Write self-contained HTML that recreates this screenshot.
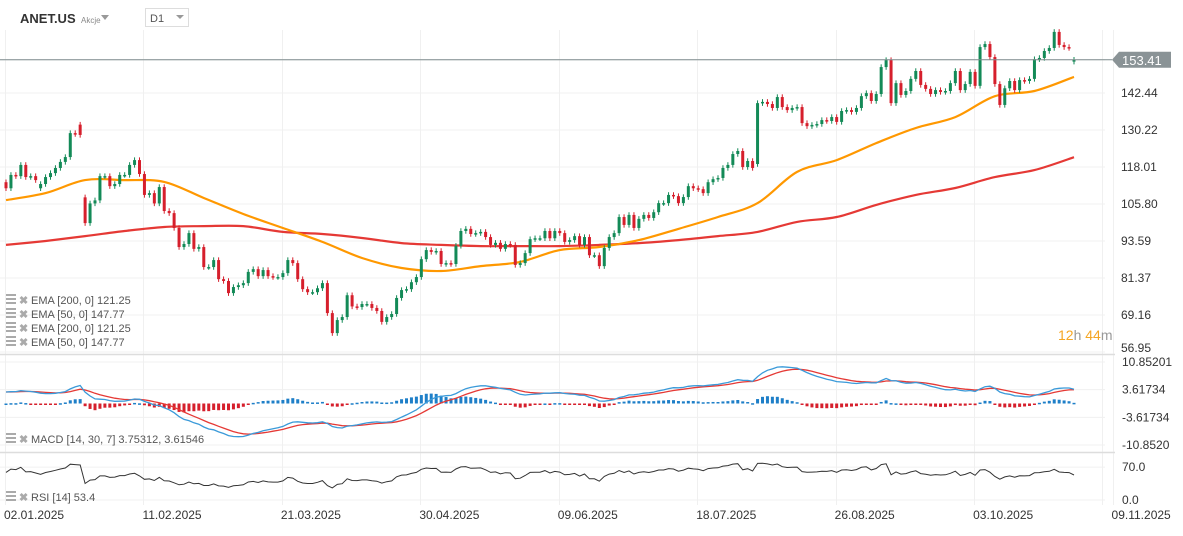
<!DOCTYPE html>
<html><head><meta charset="utf-8"><style>
html,body{margin:0;padding:0;background:#fff;}
body{width:1183px;height:531px;overflow:hidden;position:relative;font-family:"Liberation Sans",sans-serif;}
svg text{font-family:"Liberation Sans",sans-serif;}
</style></head><body>
<svg id="chart" width="1183" height="531" viewBox="0 0 1183 531" xmlns="http://www.w3.org/2000/svg">
<g id="grid"></g>
<g id="ema"></g>
<g id="candles"></g>
<g id="macd"></g>
<g id="rsi"></g>
<g id="axes"></g>
<g>
<text x="20" y="23" font-size="13" font-weight="bold" fill="#333">ANET.US</text>
<text x="81" y="23" font-size="8" fill="#888">Akcje</text>
<path d="M101 15 L109 15 L105 20 Z" fill="#999"/>
<rect x="145.5" y="8.5" width="43" height="18" fill="#fff" stroke="#ddd"/>
<text x="150" y="22" font-size="11" fill="#555">D1</text>
<path d="M176 15 L184 15 L180 19 Z" fill="#999"/>
</g>
<g>
<text x="1058" y="340" font-size="14"><tspan fill="#f5a623">12</tspan><tspan fill="#999">h </tspan><tspan fill="#f5a623">44</tspan><tspan fill="#999">m</tspan></text>
</g>
<g id="legend"></g>
</svg>
<script>
const closes=[111,115.4,115,118.7,114.7,115,113.7,112.4,114.7,116,117.7,119.7,121.3,129.2,128.9,128.6,99.5,106,107,115,115,111.7,112.4,115.4,115.4,118.7,120.3,115.7,108.8,109.4,106,111.4,103.5,102.8,97.9,91.6,92.6,96.2,91,91.6,85,85,87.3,81,80.4,76.4,78.4,79,79.7,83.4,84.3,82,84,82,81.7,81.7,83,87.3,86.3,81,77.7,76.7,76.7,78,79.7,69.8,63.2,67.5,68.5,75.7,72,71.8,72.8,72.8,71.5,70.5,66.9,68.5,69.5,74.8,77.4,77.7,80,81.7,87.6,90.6,90,90.3,86,86.3,86,92,96.9,97.6,95.9,96.2,96.6,94.9,92.3,93,91,92.6,92.3,85.7,86.3,89.6,94.2,94.5,94.5,96.9,94.5,96.9,96.2,93.3,93.9,95.2,92.3,94.9,88.9,88.9,85.3,91.3,94.9,96.2,101.5,98.9,102.2,97.9,100.9,102.2,101.2,103.1,106.1,106.1,108.8,108.4,106.1,108.1,111.7,111,110.7,109.4,113,114,114.4,117.7,118.7,122.3,123.3,118,120,117.7,139.1,139.5,138.8,137.5,141.1,137.8,136.8,137.5,137.8,132.5,131.5,131.9,132.2,133.5,133.2,134.5,132.9,136.5,136.8,136.2,137.5,141.4,142.4,139.8,142.1,151,153.3,139.1,145.7,141.8,143.1,147.1,149.7,145.1,143.8,142.1,143.4,142.8,143.1,145.7,149.7,143.4,145.4,149.4,144.8,157.6,158.6,154.3,145.4,138.5,144,146.4,143.4,146.7,146.4,147.1,153.6,154,156.3,157.3,162.6,158.3,157.6,157.3,153.41];
const opens=[113,111,115.4,115,118.7,114.7,115,111,112.4,114.7,116,117.7,119.7,121.3,129.2,132,108,99.5,106,107,115,115,111.7,112.4,115.4,115.4,118.7,120.3,115.7,108.8,109.4,106,111.4,103.5,102.8,97.9,91.6,92.6,96.2,91,91.6,85,85,87.3,81,80.4,76.4,78.4,79,79.7,83.4,84.3,82,84,82,81.7,81.7,83,87.3,86.3,81,77.7,76.7,76.7,78,79.7,69.8,63.2,67.5,68.5,75.7,72,71.8,72.8,72.8,71.5,70.5,66.9,68.5,69.5,74.8,77.4,77.7,80,81.7,87.6,90.6,90,90.3,86,86.3,86,92,96.9,97.6,95.9,96.2,96.6,94.9,92.3,93,91,92.6,92.3,85.7,86.3,89.6,94.2,94.5,94.5,96.9,94.5,96.9,96.2,93.3,93.9,95.2,92.3,94.9,88.9,88.9,85.3,91.3,94.9,96.2,101.5,98.9,102.2,97.9,100.9,102.2,101.2,103.1,106.1,106.1,108.8,108.4,106.1,108.1,111.7,111,110.7,109.4,113,114,114.4,117.7,118.7,122.3,123.3,118,120,119,139.1,139.5,138.8,137.5,141.1,137.8,136.8,137.5,137.8,132.5,131.5,131.9,132.2,133.5,133.2,134.5,132.9,136.5,136.8,136.2,137.5,141.4,142.4,139.8,142.1,151,153.3,139.1,145.7,141.8,143.1,147.1,149.7,145.1,143.8,142.1,143.4,142.8,143.1,145.7,149.7,143.4,145.4,149.4,144.8,157.6,158.6,154.3,145.4,138.5,144,146.4,143.4,146.7,146.4,147.1,153.6,154,156.3,157.3,162.6,158.3,157.6,152.8];
const ema50=[107.1,109.4,113.7,113.7,113.1,107.8,102.5,97.9,93.3,88,84.7,83.7,85.3,86.7,90.6,91.6,93.9,97.6,101.5,106.1,116.4,120.3,125.9,130.9,134.5,141.4,143.1,147.77];
const ema200=[92.3,93.6,95.2,96.9,98.2,98.5,98.5,96.6,95.9,94.6,92.9,92.3,91.9,91.9,91.9,92.3,92.9,93.9,95.2,96.6,99.9,101.5,105.5,108.8,111.1,114.7,117,121.25];
const emaStep=8;
const priceTicks=["153.41","142.44","130.22","118.01","105.80","93.59","81.37","69.16","56.95"];
const priceTickVals=[153.41,142.44,130.22,118.01,105.80,93.59,81.37,69.16,56.95];
const macdTicks=["10.85201","3.61734","-3.61734","-10.8520"];
const macdTickVals=[10.852,3.61734,-3.61734,-10.852];
const rsiTicks=["70.0","0.0"];
const rsiTickVals=[70,0];
const dateLabels=["02.01.2025","11.02.2025","21.03.2025","30.04.2025","09.06.2025","18.07.2025","26.08.2025","03.10.2025","09.11.2025"];
const dateIdx=[0,28,56,84,112,140,168,196,224];

const NS="http://www.w3.org/2000/svg";
function mk(tag,attrs,parent){const e=document.createElementNS(NS,tag);for(const k in attrs)e.setAttribute(k,attrs[k]);parent.appendChild(e);return e;}
const n=closes.length;
const X0=6, STEP=(1074-6)/(n-1);
const xs=i=>X0+i*STEP;
const yp=p=>93+(142.44-p)*3.03;
const ym=v=>403.5-v*3.82;
const yr=v=>500-v*0.47;

const grid=document.getElementById('grid');
priceTickVals.forEach(v=>{const l=mk('line',{x1:0,x2:1105,y1:yp(v),y2:yp(v),stroke:'#f0f0f0'},grid);});
macdTickVals.forEach(v=>{const l=mk('line',{x1:0,x2:1105,y1:ym(v),y2:ym(v),stroke:'#f0f0f0'},grid);});
rsiTickVals.forEach(v=>{const l=mk('line',{x1:0,x2:1105,y1:yr(v),y2:yr(v),stroke:'#f0f0f0'},grid);});
dateIdx.forEach(i=>{const x=Math.round(xs(i)-1)+0.5;const l=mk('line',{x1:x,x2:x,y1:30,y2:505,stroke:'#f0f0f0'},grid);});
mk('line',{x1:1102.5,x2:1102.5,y1:30,y2:505,stroke:'#f0f0f0'},grid);
const s1=mk('line',{x1:0,x2:1115,y1:354.5,y2:354.5,stroke:'#ddd','stroke-width':1.5},grid);

const s2=mk('line',{x1:0,x2:1115,y1:452.5,y2:452.5,stroke:'#ddd','stroke-width':1.5},grid);


// EMA (smooth curve through sampled values)
const ema=document.getElementById('ema');
function smooth(pts){let d='M'+pts[0][0].toFixed(1)+' '+pts[0][1].toFixed(1);
 for(let i=0;i<pts.length-1;i++){const p0=pts[Math.max(0,i-1)],p1=pts[i],p2=pts[i+1],p3=pts[Math.min(pts.length-1,i+2)];
  const c1x=p1[0]+(p2[0]-p0[0])/6,c1y=p1[1]+(p2[1]-p0[1])/6,c2x=p2[0]-(p3[0]-p1[0])/6,c2y=p2[1]-(p3[1]-p1[1])/6;
  d+=`C${c1x.toFixed(1)} ${c1y.toFixed(1)} ${c2x.toFixed(1)} ${c2y.toFixed(1)} ${p2[0].toFixed(1)} ${p2[1].toFixed(1)}`;}
 return d;}
function poly(arr,step,color,name,w){const pts=arr.map((v,k)=>[xs(Math.min(k*step,n-1)),yp(v)]);const p=mk('path',{d:smooth(pts),fill:'none',stroke:color,'stroke-width':w,'stroke-linejoin':'round'},ema);}
poly(ema200,emaStep,'#e53935','ema-200-line',2.2);
poly(ema50,emaStep,'#ff9800','ema-50-line',2.2);

// candles
const cg=document.getElementById('candles');
for(let i=0;i<n;i++){
 const o=opens[i],c=closes[i];const up=c>=o;const col=up?'#138a57':'#d61f2c';
 const hi=Math.max(o,c)+0.9,lo=Math.min(o,c)-0.9;const x=xs(i);
 const w=mk('line',{x1:x,x2:x,y1:yp(hi),y2:yp(lo),stroke:col,'stroke-width':1},cg);
 
 const top=yp(Math.max(o,c)),h=Math.max(1.5,Math.abs(yp(o)-yp(c)));
 const r=mk('rect',{x:x-1.5,y:top,width:3,height:h,fill:col},cg);
 
}
const lp=closes[n-1];
const pl=mk('line',{x1:0,x2:1112,y1:yp(lp),y2:yp(lp),stroke:'#7f8c8d','stroke-width':1},cg);

const tag=mk('path',{d:`M1112 ${yp(lp)} L1119 ${yp(lp)-8} L1171 ${yp(lp)-8} L1171 ${yp(lp)+8} L1119 ${yp(lp)+8} Z`,fill:'#8a9396'},cg);

const tt=mk('text',{x:1122,y:yp(lp)+5,'font-size':13,fill:'#fff'},cg);tt.textContent=lp.toFixed(2);


// MACD
function emaCalc(a,p){const k=2/(p+1);const r=[a[0]];for(let i=1;i<a.length;i++)r.push(a[i]*k+r[i-1]*(1-k));return r;}
const e14=emaCalc(closes,14),e30=emaCalc(closes,30);
const macdLine=e14.map((v,i)=>v-e30[i]+3*Math.pow(0.93,i));
const sig=emaCalc(macdLine,7);
const mg=document.getElementById('macd');
for(let i=0;i<n;i++){const h=macdLine[i]-sig[i];const y0=ym(0),y1=ym(h*1.2);
 const b=mk('rect',{x:xs(i)-1.5,y:Math.min(y0,y1),width:3,height:Math.max(1.5,Math.abs(y1-y0)),fill:h>=0?'#1e7fc8':'#d61f2c'},mg);
 }
function line(arr,yf,color,name,g,w){let d='';arr.forEach((v,i)=>{let y=yf(v);d+=(i?'L':'M')+xs(i).toFixed(1)+' '+y.toFixed(1);});const p=mk('path',{d:d,fill:'none',stroke:color,'stroke-width':w},g);}
const clipM=mk('clipPath',{id:'cm'},mg);mk('rect',{x:0,y:356,width:1110,height:95},clipM);
const mlg=mk('g',{'clip-path':'url(#cm)'},mg);
line(sig,ym,'#e53935','macd-signal-line',mlg,1.3);
line(macdLine,ym,'#3a9ad9','macd-line',mlg,1.3);

// RSI (Wilder smoothing, seeded)
const rsiVals=[];let ag=1.0,al=0.7;
for(let i=0;i<n;i++){if(i>0){const ch=closes[i]-closes[i-1];ag=(ag*13+Math.max(ch,0))/14;al=(al*13+Math.max(-ch,0))/14;}
 rsiVals.push(al===0?100:100-100/(1+ag/al));}
const rg=document.getElementById('rsi');
line(rsiVals,yr,'#333','rsi-line',rg,1);

// axes labels
const ax=document.getElementById('axes');
priceTicks.forEach((t,k)=>{if(k===0)return;const yy=k===priceTicks.length-1?352:yp(priceTickVals[k])+4;const e=mk('text',{x:1121,y:yy,'font-size':12,fill:'#333'},ax);e.textContent=t;});
macdTicks.forEach((t,k)=>{const e=mk('text',{x:1122,y:ym(macdTickVals[k])+4,'font-size':12,fill:'#333'},ax);e.textContent=t;});
rsiTicks.forEach((t,k)=>{const e=mk('text',{x:1122,y:yr(rsiTickVals[k])+4,'font-size':12,fill:'#333'},ax);e.textContent=t;});
dateLabels.forEach((t,k)=>{const e=mk('text',{x:xs(dateIdx[k])-2,y:519,'font-size':12,fill:'#333'},ax);e.textContent=t;});

// legend
const lg=document.getElementById('legend');
function legendRow(y,txt){
 const ic=mk('g',{},lg);
 mk('rect',{x:6,y:y-9,width:10,height:2,fill:'#aaa'},ic);mk('rect',{x:6,y:y-5,width:10,height:2,fill:'#aaa'},ic);mk('rect',{x:6,y:y-1,width:10,height:2,fill:'#aaa'},ic);
 const x=mk('text',{x:19,y:y+1,'font-size':11,'font-weight':'bold',fill:'#aaa'},lg);x.textContent='✖';
 const t=mk('text',{x:31,y:y+1,'font-size':11,fill:'#555'},lg);t.textContent=txt;}
legendRow(303,'EMA [200,  0] 121.25');
legendRow(317,'EMA [50,  0] 147.77');
legendRow(331,'EMA [200,  0] 121.25');
legendRow(345,'EMA [50,  0] 147.77');
legendRow(442,'MACD [14,  30,  7] 3.75312,  3.61546');
legendRow(500,'RSI [14]  53.4');
</script>
</body></html>
